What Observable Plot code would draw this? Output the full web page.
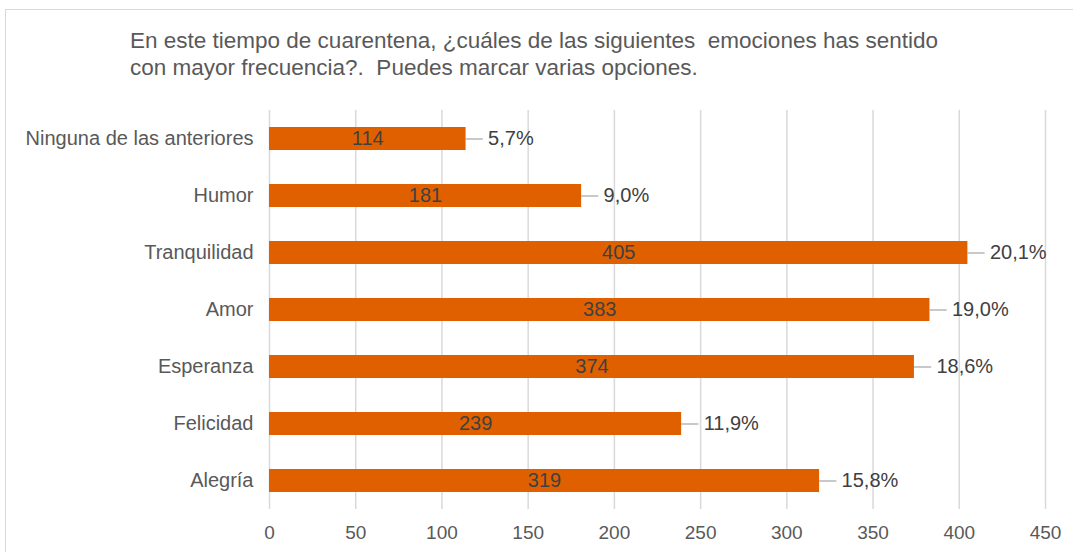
<!DOCTYPE html>
<html>
<head>
<meta charset="utf-8">
<script src="https://cdn.jsdelivr.net/npm/d3@7"></script>
<script src="https://cdn.jsdelivr.net/npm/@observablehq/plot@0.6"></script>
<style>
  html, body { margin: 0; padding: 0; background: #fff; }
  #wrap { position: relative; width: 1073px; height: 552px; overflow: hidden; }
  #border { position: absolute; left: 5px; top: 9px; width: 1100px; height: 600px; border: 1px solid #d9d9d9; }
  #title { position: absolute; left: 130px; top: 27px; font: 22.5px "Liberation Sans", Arial, sans-serif; color: #595959; line-height: 27px; white-space: pre; }
  #chart { position: absolute; left: 0; top: 100px; }
</style>
</head>
<body>
<div id="wrap">
  <div id="border"></div>
  <div id="title">En este tiempo de cuarentena, ¿cuáles de las siguientes  emociones has sentido
con mayor frecuencia?.  Puedes marcar varias opciones.</div>
  <div id="chart"></div>
</div>
<script>
const categories = ["Ninguna de las anteriores", "Humor", "Tranquilidad", "Amor", "Esperanza", "Felicidad", "Alegría"];
const counts = [114, 181, 405, 383, 374, 239, 319];
const percents = [5.7, 9.0, 20.1, 19.0, 18.6, 11.9, 15.8];
const xTicks = [0, 50, 100, 150, 200, 250, 300, 350, 400, 450];

const data = categories.map((c, i) => ({category: c, value: counts[i], pct: percents[i]}));
const fmtPct = p => p.toFixed(1).replace(".", ",") + "%";

const chart = Plot.plot({
  width: 1073,
  height: 452,
  marginLeft: 269,
  marginRight: 28,
  marginTop: 10,
  marginBottom: 43,
  style: {fontFamily: "'Liberation Sans', Arial, sans-serif", background: "transparent"},
  x: {domain: [0, 450], ticks: xTicks},
  y: {domain: categories, paddingInner: 0.6, paddingOuter: 0.3},
  marks: [
    Plot.ruleX(xTicks, {stroke: "#d9d9d9", strokeWidth: 1.5, strokeOpacity: 1}),
    Plot.barX(data, {y: "category", x: "value", fill: "#e06000"}),
    Plot.text(data, {y: "category", x: d => d.value / 2, text: d => String(d.value), fill: "#404040", fontSize: 20}),
    Plot.ruleY(data, {y: "category", x1: "value", x2: d => d.value + 10, stroke: "#a6a6a6", strokeWidth: 1.2}),
    Plot.text(data, {y: "category", x: "value", text: d => fmtPct(d.pct), dx: 22, textAnchor: "start", fill: "#404040", fontSize: 20}),
    Plot.axisY({tickSize: 0, tickPadding: 16, fontSize: 20, color: "#595959", label: null}),
    Plot.axisX({ticks: xTicks, tickSize: 0, tickPadding: 16, fontSize: 19, color: "#595959", label: null, tickFormat: d => String(d)})
  ]
});
document.getElementById("chart").appendChild(chart);
</script>
</body>
</html>
